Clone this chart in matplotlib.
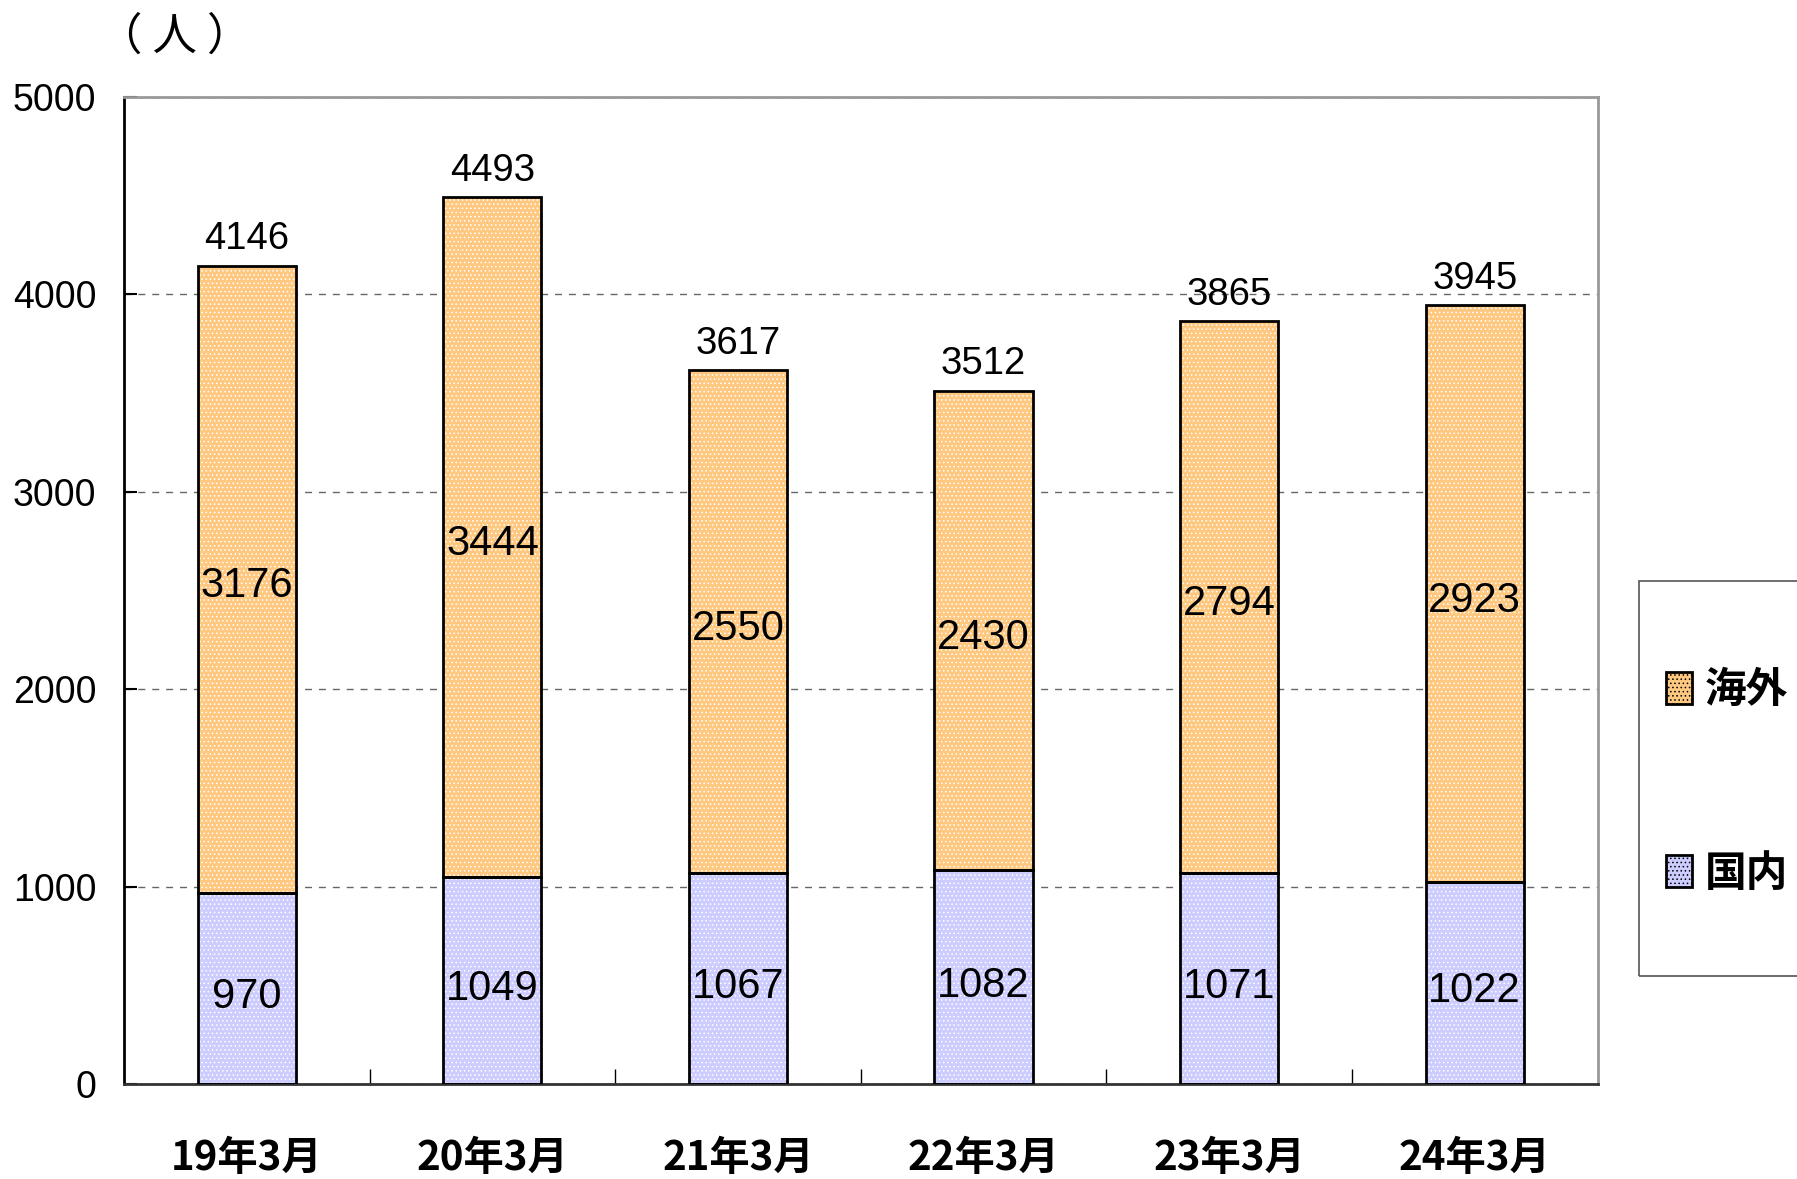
"""Stacked bar chart: domestic / overseas headcount by March of each year."""

import matplotlib.pyplot as plt
from matplotlib.patches import Rectangle
import numpy as np

# data
categories = ["19年3月", "20年3月", "21年3月", "22年3月", "23年3月", "24年3月"]
domestic = [970, 1049, 1067, 1082, 1071, 1022]  # 国内
overseas = [3176, 3444, 2550, 2430, 2794, 2923]  # 海外
totals = [4146, 4493, 3617, 3512, 3865, 3945]
y_ticks = [0, 1000, 2000, 3000, 4000, 5000]

NUM_FONT = ["Liberation Sans Narrow", "Liberation Sans", "DejaVu Sans"]
JP_FONT = ["Noto Sans CJK JP", "DejaVu Sans"]
C_DOM = "#CCCCFF"
C_OVS = "#FFC880"
DPI = 100

plt.rcParams["hatch.linewidth"] = 0.6

fig = plt.figure(figsize=(1797 / DPI, 1179 / DPI), dpi=DPI)
ax = fig.add_axes([0.069, 0.0806, 0.820, 0.8371])

x = np.arange(len(categories))
w = 0.4

# fills with fine white dot texture, then black outlines
b_dom = ax.bar(x, domestic, w, color=C_DOM, edgecolor="white", hatch="....",
               linewidth=0, zorder=2)
b_ovs = ax.bar(x, overseas, w, bottom=domestic, color=C_OVS, edgecolor="white",
               hatch="....", linewidth=0, zorder=2)
ax.bar(x, domestic, w, fill=False, edgecolor="black", linewidth=2, zorder=3)
ax.bar(x, overseas, w, bottom=domestic, fill=False, edgecolor="black",
       linewidth=2, zorder=3)

for i in range(len(categories)):
    ax.annotate(str(domestic[i]), (x[i], domestic[i] / 2), xytext=(0, -6),
                textcoords="offset points", ha="center", va="center",
                fontsize=30, family=NUM_FONT, zorder=4)
    ax.annotate(str(overseas[i]), (x[i], domestic[i] + overseas[i] / 2),
                xytext=(0, -5), textcoords="offset points", ha="center",
                va="center", fontsize=30, family=NUM_FONT, zorder=4)
    ax.annotate(str(totals[i]), (x[i], totals[i]), xytext=(0, 6),
                textcoords="offset points", ha="center", va="bottom",
                fontsize=27.5, family=NUM_FONT, zorder=4)

ax.set_xlim(-0.5, len(categories) - 0.5)
ax.set_ylim(0, 5000)
ax.set_yticks(y_ticks)
ax.set_yticklabels([str(v) for v in y_ticks], family=NUM_FONT, fontsize=27)
ax.set_xticks(x)
ax.set_xticklabels(categories, family=JP_FONT, fontsize=29, fontweight="bold")
ax.set_xticks(np.arange(0.5, len(categories) - 0.5), minor=True)
ax.tick_params(axis="x", which="major", length=0, pad=39)
ax.tick_params(axis="x", which="minor", direction="in", length=11, width=1)
ax.tick_params(axis="y", direction="in", length=9, width=1.5, pad=20)

ax.yaxis.grid(True, linestyle=(0, (5, 5)), color="#666666", linewidth=1)
ax.set_axisbelow(True)

ax.spines["left"].set_color("black")
ax.spines["bottom"].set_color("#333333")
ax.spines["top"].set_color("#999999")
ax.spines["right"].set_color("#999999")
for s in ax.spines.values():
    s.set_linewidth(2)

# unit label
fig.text(175 / 1797, 1 - 37 / 1179, "（ 人 ）", ha="center", va="center",
         fontsize=32, family=JP_FONT)

# legend box, running off the right edge
fig.patches.append(Rectangle((1639 / 1797, 1 - 976 / 1179), 0.2, 395 / 1179,
                             transform=fig.transFigure, fill=False,
                             edgecolor="#555555", linewidth=1.2))
leg = fig.legend([b_ovs, b_dom], ["海外", "国内"], loc="center left",
                 bbox_to_anchor=(1666 / 1797, 1 - 782 / 1179), frameon=False,
                 prop={"family": JP_FONT, "size": 30, "weight": "bold"},
                 labelspacing=3.4, handlelength=0.62, handleheight=0.8,
                 handletextpad=0.3, borderpad=0, borderaxespad=0)
for h in leg.legend_handles:
    h.set_edgecolor("black")
    h.set_linewidth(2)

fig.savefig("out.png", dpi=DPI)
